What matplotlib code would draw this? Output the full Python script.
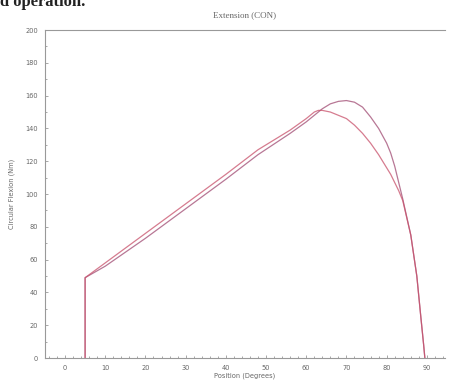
import matplotlib.pyplot as plt
from matplotlib.ticker import MultipleLocator

# position (degrees) and torque (Nm) for the two repetitions
pos_a = [5, 5, 10, 20, 30, 40, 48, 56, 60, 62, 64, 66, 68, 70, 72, 74, 76, 78,
         80, 81, 82, 83, 84, 86, 87.5, 88.5, 89.2, 89.5]
trq_a = [0, 49, 56, 73, 91, 109, 124, 137, 144, 148, 152, 155, 156.5, 157, 156,
         153, 147, 140, 131, 125, 117, 107, 97, 75, 50, 25, 8, 0]

pos_b = [5, 5, 10, 20, 30, 40, 48, 56, 60, 62, 63, 64, 66, 68, 70, 72, 74, 76,
         78, 80, 81, 82, 83, 84, 86, 87.5, 88.5, 89.2, 89.5]
trq_b = [0, 49, 58, 76, 94, 112, 127, 139, 146, 150, 151, 151, 150, 148, 146,
         142, 137, 131, 124, 116, 112, 107, 102, 96, 75, 50, 25, 8, 0]

x_ticks = [0, 10, 20, 30, 40, 50, 60, 70, 80, 90]
y_ticks = [0, 20, 40, 60, 80, 100, 120, 140, 160, 180, 200]

fig = plt.figure(figsize=(4.49, 3.85), dpi=100)
ax = fig.add_axes([0.100, 0.070, 0.891, 0.852])

ax.plot(pos_a, trq_a, color='#a04a72', linewidth=0.9, alpha=0.75)
ax.plot(pos_b, trq_b, color='#c8506a', linewidth=0.9, alpha=0.75)

ax.set_xlim(-5, 94.5)
ax.set_ylim(0, 200)
ax.set_xticks(x_ticks)
ax.set_yticks(y_ticks)
ax.xaxis.set_minor_locator(MultipleLocator(2))
ax.yaxis.set_minor_locator(MultipleLocator(10))

for side in ['left', 'bottom', 'top']:
    ax.spines[side].set_color('#999999')
    ax.spines[side].set_linewidth(0.8)
ax.spines['right'].set_visible(False)

ax.tick_params(which='both', direction='in', colors='#999999', length=2, width=0.6,
               labelsize=4.8, labelcolor='#666666', pad=5)
ax.tick_params(which='minor', length=1.5)

ax.set_title('Extension (CON)', fontsize=6.5, family='Liberation Serif',
             color='#666666', pad=9)
ax.set_xlabel('Position (Degrees)', fontsize=4.8, color='#666666', labelpad=1)
ax.set_ylabel('Circular Flexion (Nm)', fontsize=4.8, color='#666666', labelpad=7)

fig.text(0.0, 0.995, 'd operation.', fontsize=12, fontweight='bold',
         family='Liberation Serif', ha='left', va='center', color='#222222')

fig.savefig('out.png', dpi=100)
